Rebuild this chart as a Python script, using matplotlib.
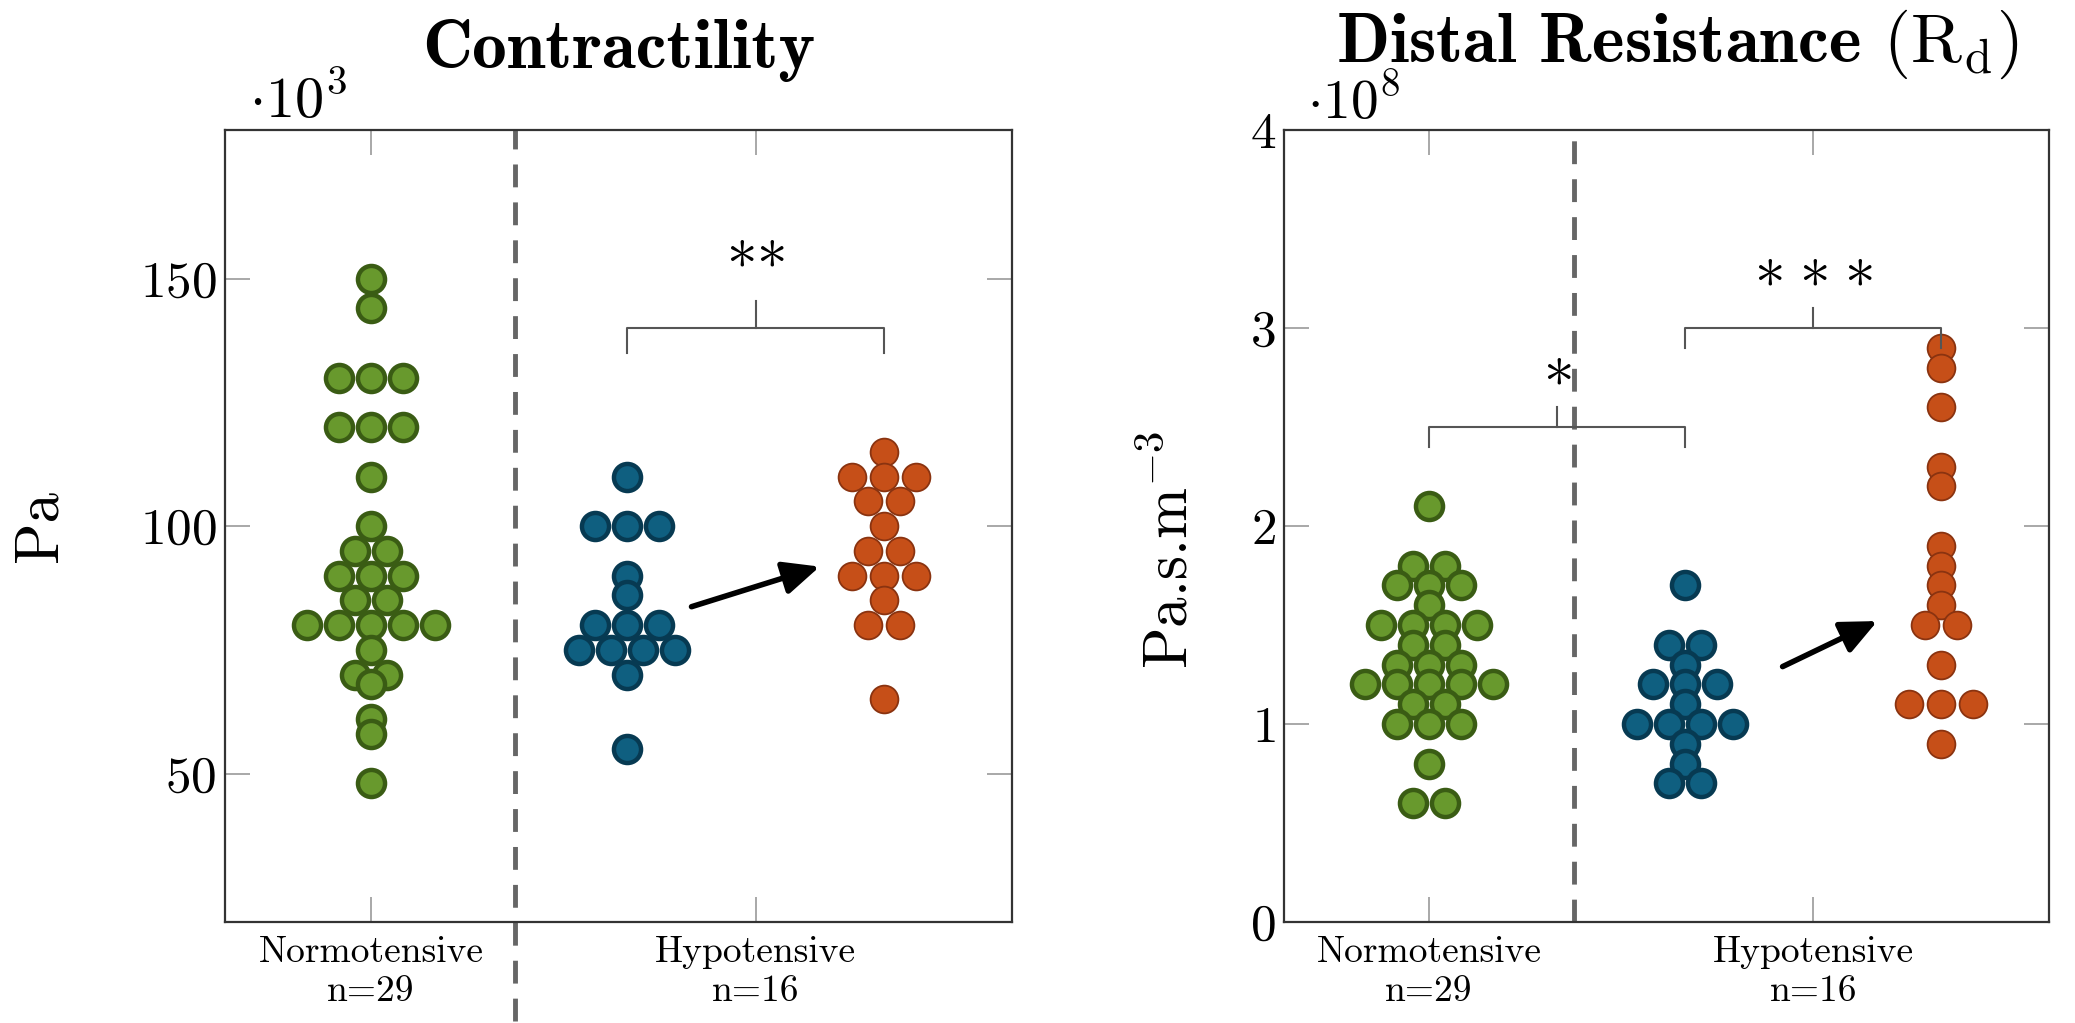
import numpy as np
import matplotlib
matplotlib.use('Agg')
import matplotlib.pyplot as plt
from collections import Counter

# ---------------- data ----------------
groups = ['Normotensive', 'Hypotensive']
group_n = [29, 16]

# Contractility (x 10^3 Pa)
contr_normo = [150, 144, 130, 130, 130, 120, 120, 120, 110, 100, 95, 95, 90, 90, 90,
               85, 85, 80, 80, 80, 80, 80, 75, 70, 70, 68, 61, 58, 48]
contr_hypo_before = [110, 100, 100, 100, 90, 86, 80, 80, 80, 75, 75, 75, 75, 70, 55]
contr_hypo_after = [115, 110, 110, 110, 105, 105, 100, 95, 95, 90, 90, 90, 85, 80, 80, 65]

# Distal resistance (x 10^8 Pa.s.m^-3)
rd_normo = [2.1, 1.8, 1.8, 1.7, 1.7, 1.7, 1.6, 1.5, 1.5, 1.5, 1.5, 1.4, 1.4, 1.3, 1.3, 1.3,
            1.2, 1.2, 1.2, 1.2, 1.2, 1.1, 1.1, 1.0, 1.0, 1.0, 0.8, 0.6, 0.6]
rd_hypo_before = [1.7, 1.4, 1.4, 1.3, 1.2, 1.2, 1.2, 1.1, 1.0, 1.0, 1.0, 1.0, 0.9, 0.8, 0.7, 0.7]
rd_hypo_after = [2.9, 2.8, 2.6, 2.3, 2.2, 1.9, 1.8, 1.7, 1.6, 1.5, 1.5, 1.3, 1.1, 1.1, 1.1, 0.9]

# ---------------- style ----------------
plt.rcParams['font.family'] = ['cmr10', 'DejaVu Serif']
plt.rcParams['mathtext.fontset'] = 'cm'
plt.rcParams['axes.formatter.use_mathtext'] = True
plt.rcParams['axes.unicode_minus'] = False

GREEN = ('#68992d', '#3a5c14')
BLUE = ('#0f5f80', '#073a52')
ORANGE = ('#c64f18', '#8a3310')
STEP = 0.125  # horizontal spread between identical values (data units)


def swarm_x(values, center, step=STEP):
    counts = Counter(values)
    seen = Counter()
    xs = []
    for v in values:
        k = counts[v]
        i = seen[v]
        seen[v] += 1
        xs.append(center + (i - (k - 1) / 2.0) * step)
    return xs


def draw_group(ax, values, center, colors, ms, mew):
    xs = swarm_x(values, center)
    ax.plot(xs, values, 'o', ms=ms, mfc=colors[0], mec=colors[1], mew=mew,
            ls='none', zorder=3)


def style_axes(ax, yticks):
    for s in ax.spines.values():
        s.set_linewidth(1.6)
        s.set_color('#333333')
    ax.set_yticks(yticks)
    ax.set_xticks([1, 2.5])
    ax.set_xticklabels([f'{g}\nn={n}' for g, n in zip(groups, group_n)],
                       fontsize=27, linespacing=1.2)
    ax.tick_params(axis='y', direction='in', left=True, right=True, length=18,
                   width=1.2, color='#9a9a9a', labelsize=37, pad=6)
    ax.tick_params(axis='x', direction='in', top=True, bottom=True, length=18,
                   width=1.2, color='#9a9a9a', pad=10)


fig = plt.figure(figsize=(20.75, 10.23), dpi=100)
ax1 = fig.add_axes([0.1084, 0.0987, 0.3793, 0.7742])
ax2 = fig.add_axes([0.6188, 0.0987, 0.3687, 0.7742])

ARROW = dict(arrowstyle='-|>,head_length=0.55,head_width=0.25', lw=4,
             color='black', mutation_scale=40, shrinkA=0, shrinkB=0)

# ---------- left: contractility ----------
ax1.set_xlim(0.43, 3.5)
ax1.set_ylim(20, 180)
style_axes(ax1, [50, 100, 150])
draw_group(ax1, contr_normo, 1, GREEN, 19.5, 3.2)
draw_group(ax1, contr_hypo_before, 2, BLUE, 19.5, 3.2)
draw_group(ax1, contr_hypo_after, 3, ORANGE, 20, 1.3)
ax1.plot([1.56, 1.56], [0, 180], ls=(0, (4.7, 3.1)), lw=3.5, color='#666666',
         clip_on=False, zorder=2)
ax1.plot([2, 2, 3, 3], [135, 140, 140, 135], color='#555555', lw=1.5)
ax1.plot([2.5, 2.5], [140, 145.4], color='#555555', lw=1.5)
ax1.text(2.5, 155.4, r'${\ast}{\ast}$', ha='center', va='center', fontsize=44)
ax1.annotate('', xy=(2.75, 91.8), xytext=(2.25, 83.7), arrowprops=ARROW)
ax1.set_ylabel('Pa', fontsize=44)
ax1.yaxis.set_label_coords(-0.234, 0.5)
ax1.yaxis.label.set_va('center')
ax1.set_title('Contractility', x=0.5006, y=1.101, va='center', fontsize=50,
              fontfamily='cmb10', pad=0)
ax1.text(0.03, 1.038, r'$\cdot 10^3$', transform=ax1.transAxes, ha='left',
         va='center', fontsize=42)

# ---------- right: distal resistance ----------
ax2.set_xlim(0.434, 3.42)
ax2.set_ylim(0, 4)
style_axes(ax2, [0, 1, 2, 3, 4])
draw_group(ax2, rd_normo, 1, GREEN, 19.5, 3.2)
draw_group(ax2, rd_hypo_before, 2, BLUE, 19.5, 3.2)
draw_group(ax2, rd_hypo_after, 3, ORANGE, 20, 1.3)
ax2.plot([1.566, 1.566], [0, 4], ls=(0, (4.7, 3.1)), lw=3.5, color='#666666',
         zorder=2)
ax2.plot([1, 1, 2, 2], [2.4, 2.5, 2.5, 2.4], color='#555555', lw=1.5)
ax2.plot([1.5, 1.5], [2.5, 2.6], color='#555555', lw=1.5)
ax2.text(1.5, 2.79, r'${\ast}$', ha='center', va='center', fontsize=44)
ax2.plot([2, 2, 3, 3], [2.9, 3.0, 3.0, 2.9], color='#555555', lw=1.5, zorder=4)
ax2.plot([2.5, 2.5], [3.0, 3.1], color='#555555', lw=1.5)
ax2.text(2.5, 3.29, r'${\ast}\;{\ast}\;{\ast}$', ha='center', va='center',
         fontsize=44)
ax2.annotate('', xy=(2.75, 1.52), xytext=(2.38, 1.29), arrowprops=ARROW)
ax2.set_ylabel(r'Pa.s.m$^{-3}$', fontsize=44)
ax2.yaxis.set_label_coords(-0.148, 0.47)
ax2.yaxis.label.set_va('center')
ax2.set_title(r'Distal Resistance $(\mathrm{R}_\mathrm{d})$', x=0.514, y=1.108,
              va='center', fontsize=50, fontfamily='cmb10', pad=0)
ax2.text(0.03, 1.036, r'$\cdot 10^8$', transform=ax2.transAxes, ha='left',
         va='center', fontsize=40)

fig.savefig('out.png', dpi=100)
